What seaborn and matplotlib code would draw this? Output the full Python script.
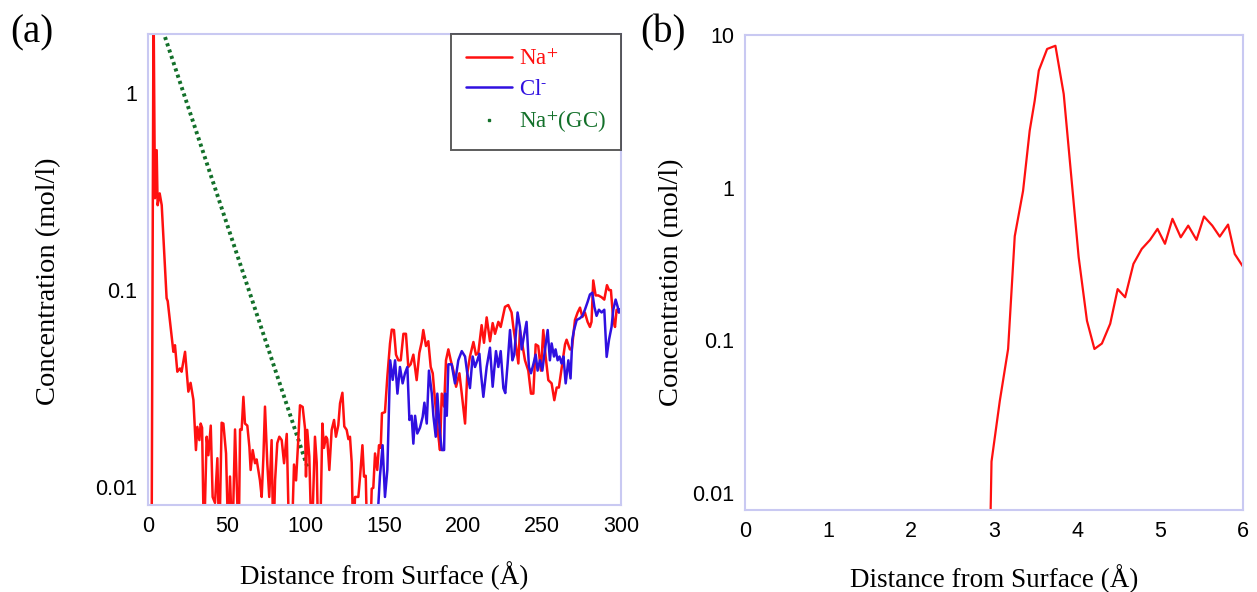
import numpy as np
import pandas as pd
import seaborn as sns
import matplotlib
matplotlib.use("Agg")
import matplotlib.pyplot as plt
from matplotlib.lines import Line2D

# ---- Panel (a): ion concentration profiles across the slab ----
na_x = [2.3, 3.5, 4.4, 5.5, 6.1, 7.4, 8.7, 11.8, 12.5, 16.1, 17.1, 18.6, 20.3, 21.3,
        23.5, 25.6, 27.0, 28.8, 30.4, 31.3, 32.6, 33.4, 34.3, 35.5, 37.2, 38.3, 39.8,
        41.0, 42.5, 44.0, 45.2, 46.7, 47.8, 49.5, 51.0, 52.0, 53.5, 55.2, 56.2, 57.5,
        58.4, 59.4, 60.5, 61.5, 63.0, 64.3, 65.1, 66.4, 67.9, 68.9, 71.0, 72.1, 73.2,
        74.2, 75.7, 76.9, 78.4, 79.5, 80.6, 82.0, 83.3, 84.8, 86.3, 88.0, 89.6, 91.1,
        92.6, 93.9, 95.3, 96.4, 98.1, 99.6, 100.2, 101.0, 102.3, 103.8, 105.9, 107.0,
        108.0, 109.1, 110.6, 111.6, 112.9, 113.7, 115.0, 116.5, 118.0, 119.2, 120.7,
        121.8, 123.3, 124.5, 126.0, 127.1, 128.1, 129.2, 130.2, 131.3, 133.4, 134.5,
        136.0, 137.0, 138.1, 139.1, 140.8, 141.9, 142.9, 144.0, 145.4, 146.5, 147.6,
        148.4, 150.3, 151.8, 153.5, 154.6, 156.0, 157.3, 158.8, 160.3, 162.0, 163.6,
        165.1, 166.6, 168.3, 170.4, 172.1, 173.6, 174.6, 176.3, 177.8, 179.3, 180.6,
        182.0, 184.2, 185.2, 186.3, 187.8, 189.0, 190.5, 192.0, 193.7, 195.4, 197.5,
        199.0, 201.1, 202.5, 204.2, 206.4, 208.0, 209.5, 211.6, 213.1, 214.8, 216.9,
        218.6, 220.1, 222.2, 223.7, 226.4, 228.5, 230.6, 231.7, 233.2, 234.9, 235.9,
        237.4, 239.1, 241.2, 242.9, 244.4, 245.9, 247.5, 249.2, 250.7, 252.2, 253.9,
        256.0, 257.7, 259.2, 260.6, 262.3, 264.5, 265.5, 267.6, 268.8, 270.8, 272.5,
        274.0, 275.5, 277.1, 278.8, 280.3, 281.3, 282.4, 283.9, 285.6, 287.7, 289.4,
        291.1, 292.4, 293.6, 295.1, 296.2, 297.2, 298.7, 300.0]
na_c = [0.005, 3.0, 0.293, 0.514, 0.27, 0.31, 0.27, 0.091, 0.088, 0.0486, 0.0525, 0.0385,
        0.040, 0.0385, 0.0486, 0.0305, 0.0338, 0.0277, 0.0154, 0.0202, 0.0173, 0.021,
        0.020, 0.005, 0.018, 0.0145, 0.0205, 0.0089, 0.0083, 0.014, 0.005, 0.0212, 0.021,
        0.0148, 0.005, 0.0113, 0.005, 0.0196, 0.0108, 0.005, 0.0196, 0.0195, 0.0287,
        0.021, 0.0205, 0.016, 0.0122, 0.0154, 0.0132, 0.0138, 0.0108, 0.0089, 0.0143,
        0.0256, 0.013, 0.0089, 0.0173, 0.005, 0.0108, 0.0167, 0.018, 0.0173, 0.0132,
        0.0186, 0.005, 0.005, 0.013, 0.0108, 0.0173, 0.026, 0.0255, 0.0198, 0.0113,
        0.0195, 0.0143, 0.005, 0.018, 0.0133, 0.005, 0.005, 0.021, 0.0158, 0.018,
        0.0175, 0.0122, 0.0195, 0.0219, 0.018, 0.0206, 0.0266, 0.0301, 0.0203, 0.0195,
        0.0175, 0.018, 0.0133, 0.005, 0.0089, 0.0089, 0.0113, 0.0163, 0.0113, 0.0114,
        0.005, 0.005, 0.0098, 0.0099, 0.0148, 0.0122, 0.0163, 0.0158, 0.0237, 0.024,
        0.0363, 0.0536, 0.063, 0.0627, 0.047, 0.044, 0.044, 0.06, 0.06, 0.0407, 0.042,
        0.047, 0.0349, 0.048, 0.0545, 0.0627, 0.052, 0.055, 0.0407, 0.0378, 0.0276,
        0.018, 0.0154, 0.0298, 0.0256, 0.044, 0.05, 0.044, 0.039, 0.0323, 0.0378,
        0.0298, 0.021, 0.0378, 0.046, 0.0545, 0.047, 0.048, 0.0664, 0.054, 0.0727,
        0.055, 0.068, 0.06, 0.069, 0.065, 0.0822, 0.084, 0.077, 0.065, 0.0536, 0.0424,
        0.0627, 0.053, 0.044, 0.039, 0.0298, 0.0298, 0.053, 0.052, 0.039, 0.0627,
        0.046, 0.0349, 0.0336, 0.0276, 0.032, 0.032, 0.04, 0.053, 0.056, 0.05, 0.05,
        0.0705, 0.077, 0.0815, 0.073, 0.077, 0.069, 0.065, 0.069, 0.112, 0.094, 0.094,
        0.092, 0.0895, 0.106, 0.1, 0.1, 0.0705, 0.065, 0.0795, 0.077, 0.08]

cl_x = [144.6, 147.1, 148.8, 150.3, 151.8, 152.8, 153.6, 155.2, 156.7, 158.2, 159.8,
        161.5, 163.0, 164.5, 165.8, 167.2, 168.3, 169.4, 170.8, 172.5, 174.2, 175.3,
        176.8, 178.2, 180.0, 181.0, 182.5, 183.5, 185.2, 186.3, 187.8, 188.4, 189.5,
        190.5, 192.6, 194.7, 196.8, 199.0, 201.1, 202.5, 204.2, 205.9, 207.4, 208.9,
        210.2, 211.0, 212.7, 214.8, 216.9, 218.6, 220.7, 222.2, 223.7, 225.4, 226.6,
        228.1, 229.6, 231.1, 232.3, 234.4, 235.9, 237.0, 238.7, 240.1, 241.6, 242.9,
        244.4, 245.9, 247.1, 248.6, 250.1, 251.8, 253.5, 254.9, 256.0, 257.5, 258.5,
        259.8, 261.0, 262.3, 263.5, 264.9, 266.6, 268.0, 269.1, 270.2, 271.9, 274.0,
        275.5, 277.1, 278.8, 280.3, 281.8, 283.1, 284.5, 286.0, 287.7, 289.4, 290.9,
        292.4, 294.0, 295.1, 296.6, 297.9, 298.7, 299.5]
cl_c = [0.005, 0.0113, 0.0163, 0.0089, 0.0122, 0.0245, 0.044, 0.035, 0.044, 0.0298,
        0.0407, 0.0336, 0.0378, 0.0407, 0.0219, 0.023, 0.0166, 0.023, 0.0187, 0.02,
        0.0227, 0.0268, 0.021, 0.039, 0.0298, 0.023, 0.018, 0.0298, 0.0187, 0.0154,
        0.0154, 0.0298, 0.023, 0.042, 0.042, 0.0336, 0.044, 0.049, 0.046, 0.0378,
        0.0318, 0.046, 0.0407, 0.044, 0.0475, 0.039, 0.0287, 0.0407, 0.051, 0.0323,
        0.049, 0.0407, 0.049, 0.0318, 0.03, 0.0424, 0.0627, 0.044, 0.047, 0.077, 0.065,
        0.05, 0.06, 0.069, 0.0407, 0.0378, 0.042, 0.047, 0.039, 0.044, 0.039, 0.05,
        0.0627, 0.044, 0.0536, 0.046, 0.05, 0.044, 0.046, 0.0424, 0.046, 0.0336, 0.044,
        0.0356, 0.056, 0.0627, 0.0705, 0.072, 0.074, 0.0795, 0.087, 0.095, 0.097,
        0.0822, 0.074, 0.0795, 0.077, 0.0795, 0.0458, 0.056, 0.065, 0.0795, 0.0895,
        0.0822, 0.077, 0.08]

# Gouy-Chapman Na+ profile (straight on a log axis)
gc_x = [10.8, 101.0]
gc_c = [1.93, 0.0127]

# ---- Panel (b): Na+ near the surface ----
nb_x = [2.95, 2.97, 3.07, 3.17, 3.25, 3.35, 3.43, 3.49, 3.54, 3.64, 3.74, 3.84, 4.02,
        4.12, 4.21, 4.30, 4.40, 4.49, 4.58, 4.68, 4.78, 4.88, 4.97, 5.06, 5.15, 5.25,
        5.34, 5.44, 5.53, 5.63, 5.72, 5.82, 5.90, 6.00]
nb_c = [0.004, 0.016, 0.040, 0.0875, 0.48, 0.95, 2.36, 3.7, 5.85, 8.1, 8.5, 4.1, 0.35,
        0.134, 0.0875, 0.095, 0.128, 0.216, 0.191, 0.316, 0.396, 0.454, 0.536, 0.428,
        0.624, 0.472, 0.563, 0.454, 0.646, 0.563, 0.477, 0.572, 0.367, 0.303]

RED = "#ff1010"
BLUE = "#3010e0"
GREEN = "#13702a"
SPINE = "#c9c9f2"

sns.set_theme(style="white")
plt.rcParams["font.family"] = ["Liberation Serif", "DejaVu Serif"]
plt.rcParams["mathtext.fontset"] = "stix"
plt.rcParams["text.color"] = "black"
plt.rcParams["axes.labelcolor"] = "black"
plt.rcParams["xtick.color"] = "black"
plt.rcParams["ytick.color"] = "black"

fig = plt.figure(figsize=(12.57, 5.92), dpi=100)
ax_a = fig.add_axes([148 / 1257, 1 - 505 / 592, 473 / 1257, 471 / 592])
ax_b = fig.add_axes([745 / 1257, 1 - 510 / 592, 498 / 1257, 475 / 592])

df_na = pd.DataFrame({"x": na_x, "c": na_c})
df_cl = pd.DataFrame({"x": cl_x, "c": cl_c})
df_gc = pd.DataFrame({"x": gc_x, "c": gc_c})
df_b = pd.DataFrame({"x": nb_x, "c": nb_c})

sns.lineplot(data=df_gc, x="x", y="c", ax=ax_a, estimator=None, sort=False,
             color=GREEN, linewidth=2.8, linestyle=(0, (0.8, 0.9)))
sns.lineplot(data=df_na, x="x", y="c", ax=ax_a, estimator=None, sort=False,
             color=RED, linewidth=1.8)
sns.lineplot(data=df_cl, x="x", y="c", ax=ax_a, estimator=None, sort=False,
             color=BLUE, linewidth=1.8)
sns.lineplot(data=df_b, x="x", y="c", ax=ax_b, estimator=None, sort=False,
             color=RED, linewidth=1.6)

tick_family = ["Liberation Sans", "DejaVu Sans"]
tick_size = 15.5

for ax in (ax_a, ax_b):
    ax.set_yscale("log")
    for s in ax.spines.values():
        s.set_visible(True)
        s.set_color(SPINE)
        s.set_linewidth(1.5)
    ax.tick_params(axis="both", which="both", length=0, pad=8)
    ax.set_xlabel("Distance from Surface (Å)", fontsize=19.5)
    ax.set_ylabel("Concentration (mol/l)", fontsize=20.5)

ax_a.set_xlim(0, 300)
ax_a.set_ylim(0.0081, 2.0)
ax_a.set_xticks([0, 50, 100, 150, 200, 250, 300])
ax_a.set_yticks([0.01, 0.1, 1])
ax_a.set_yticklabels(["0.01", "0.1", "1"])

ax_b.set_xlim(0, 6)
ax_b.set_ylim(0.0077, 10)
ax_b.set_xticks(range(0, 7))
ax_b.set_yticks([0.01, 0.1, 1, 10])
ax_b.set_yticklabels(["0.01", "0.1", "1", "10"])

ax_a.xaxis.set_label_coords(0.5, -0.12)
ax_a.yaxis.set_label_coords(-0.183, 0.475)
ax_b.xaxis.set_label_coords(0.5, -0.115)
ax_b.yaxis.set_label_coords(-0.122, 0.48)

for ax in (ax_a, ax_b):
    ax.minorticks_off()
    for lab in ax.get_xticklabels() + ax.get_yticklabels():
        lab.set_fontfamily(tick_family)
        lab.set_fontsize(tick_size)

handles = [
    Line2D([], [], color=RED, linewidth=1.8),
    Line2D([], [], color=BLUE, linewidth=1.8),
    Line2D([], [], color=GREEN, linestyle="none", marker="s", markersize=1.8),
]
labels = [r"Na$^{+}$", r"Cl$^{\text{-}}$", r"Na$^{+}$(GC)"]
leg = ax_a.legend(handles, labels, loc="upper right", bbox_to_anchor=(1.0, 1.0),
                  fontsize=16.5, frameon=True, fancybox=False, handlelength=2.0,
                  handletextpad=0.3, labelspacing=0.4, borderpad=0.65,
                  borderaxespad=0.0)
leg.get_frame().set_edgecolor("#333333")
leg.get_frame().set_linewidth(1.4)
for txt, col in zip(leg.get_texts(), [RED, BLUE, GREEN]):
    txt.set_color(col)

fig.text(10 / 1257, 1 - 33 / 592, "(a)", fontsize=28, va="center", ha="left")
fig.text(640 / 1257, 1 - 33 / 592, "(b)", fontsize=28, va="center", ha="left")

fig.savefig("out.png", dpi=100)
